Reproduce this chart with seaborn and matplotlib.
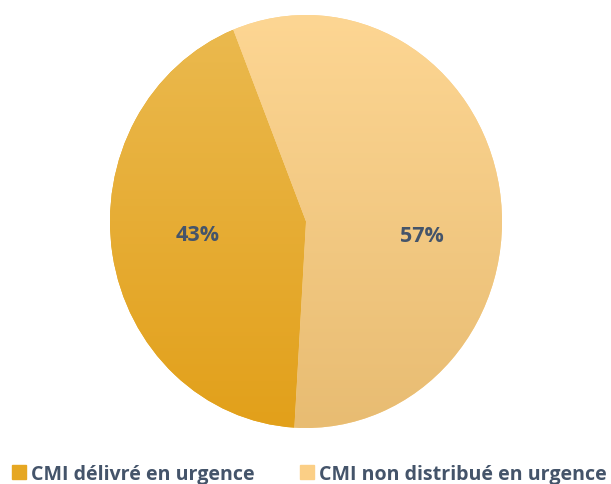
import numpy as np
import matplotlib.pyplot as plt
import seaborn as sns
from matplotlib.colors import LinearSegmentedColormap

# data
labels = ['CMI délivré en urgence', 'CMI non distribué en urgence']
shares = [43, 57]
# vertical gradient of each slice (top -> bottom)
top_colors = ['#EBBA50', '#FDD693']
bottom_colors = ['#E2A01A', '#E8BC72']
legend_colors = ['#E6A722', '#FBCF86']
text_color = '#44546A'

sns.set_theme(style='white')
plt.rcParams['font.family'] = ['Open Sans', 'DejaVu Sans']

fig = plt.figure(figsize=(6.11, 4.85), dpi=100)
ax = fig.add_axes([0.180, 0.1155, 0.6416, 0.8515])

wedges, texts, autotexts = ax.pie(
    shares, startangle=111.8, counterclock=True, autopct='%1.0f%%',
    colors=legend_colors, wedgeprops=dict(linewidth=0),
    textprops=dict(color=text_color, fontsize=15.5, fontweight='bold'))

# gradient fill clipped to each wedge
grad = np.linspace(1, 0, 256).reshape(-1, 1)
for w, c_top, c_bot in zip(wedges, top_colors, bottom_colors):
    cmap = LinearSegmentedColormap.from_list('g', [c_bot, c_top])
    im = ax.imshow(grad, extent=(-1, 1, -1, 1), cmap=cmap, aspect='auto',
                   origin='upper', zorder=w.get_zorder() + 0.1)
    im.set_clip_path(w)

# label positions as in the original layout
autotexts[0].set_position((-0.555, -0.065))
autotexts[1].set_position((0.59, -0.07))
for t in autotexts:
    t.set_zorder(5)

ax.set_aspect('auto')
ax.set_xlim(-1, 1)
ax.set_ylim(-1, 1)
ax.axis('off')

handles = [plt.Rectangle((0, 0), 1, 1, color=c) for c in legend_colors]
fig.legend(handles, labels, loc='lower left', bbox_to_anchor=(0.004, -0.02),
           ncol=2, frameon=False, handlelength=0.72, handleheight=0.72,
           handletextpad=0.22, columnspacing=2.35, borderpad=0,
           borderaxespad=0.5,
           prop=dict(size=14.1, weight='bold'), labelcolor=text_color)

plt.savefig('out.png', dpi=100)
plt.close()
